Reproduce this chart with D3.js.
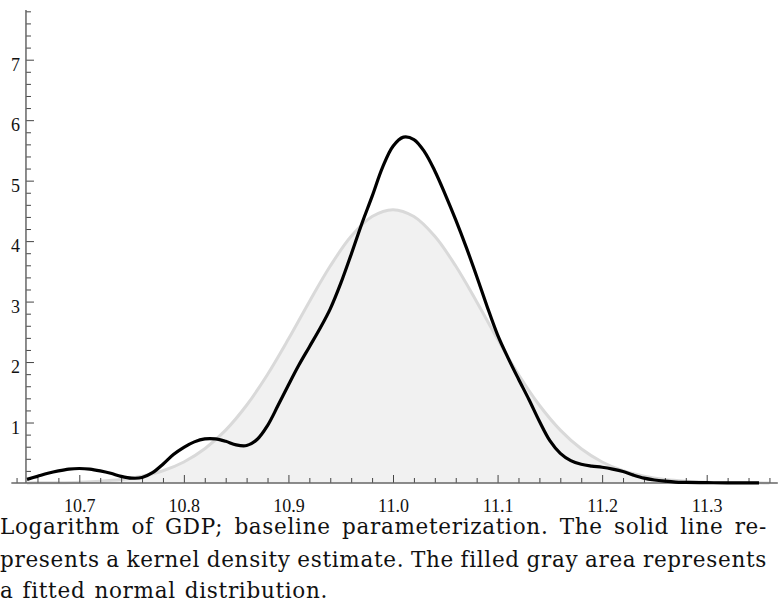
<!DOCTYPE html>
<html><head><meta charset="utf-8">
<script src="https://cdn.jsdelivr.net/npm/d3@7"></script>
<style>body{margin:0;background:#fff}svg{display:block}
.tk{font-family:"Liberation Serif","Times New Roman","DejaVu Serif",serif}
.cap{font-family:"DejaVu Serif","Liberation Serif",serif;letter-spacing:0.7px}</style>
</head><body>
<svg id="c" width="779" height="604"></svg>
<script>
// Kernel density estimate (black line)
const kdeX = [10.65,10.66,10.67,10.68,10.69,10.70,10.71,10.72,10.73,10.74,10.75,10.76,10.77,10.78,10.79,10.80,10.81,10.82,10.83,10.84,10.85,10.86,10.87,10.88,10.89,10.90,10.91,10.92,10.93,10.94,10.95,10.96,10.97,10.98,10.99,11.00,11.01,11.02,11.03,11.04,11.05,11.06,11.07,11.08,11.09,11.10,11.11,11.12,11.13,11.14,11.15,11.16,11.17,11.18,11.19,11.20,11.21,11.22,11.23,11.24,11.25,11.26,11.27,11.28,11.30,11.32,11.35];
const kdeY = [0.06,0.11,0.16,0.20,0.23,0.24,0.23,0.20,0.16,0.11,0.08,0.09,0.17,0.31,0.47,0.59,0.68,0.73,0.73,0.69,0.63,0.62,0.72,0.95,1.28,1.62,1.95,2.25,2.55,2.88,3.30,3.78,4.28,4.74,5.22,5.57,5.72,5.68,5.48,5.16,4.77,4.35,3.90,3.42,2.92,2.45,2.07,1.72,1.38,1.02,0.70,0.49,0.37,0.31,0.28,0.26,0.23,0.19,0.13,0.08,0.05,0.03,0.015,0.01,0.005,0.003,0.002];
// Fitted normal distribution (gray filled area)
const normX = [10.65,10.66,10.68,10.70,10.72,10.74,10.76,10.78,10.80,10.82,10.84,10.86,10.88,10.90,10.92,10.94,10.96,10.98,11.00,11.02,11.04,11.06,11.08,11.10,11.12,11.14,11.16,11.18,11.20,11.22,11.24,11.26,11.28,11.30,11.32,11.34,11.36];
const normY = [0.002,0.003,0.006,0.014,0.030,0.059,0.113,0.203,0.348,0.566,0.875,1.286,1.795,2.380,2.999,3.588,4.079,4.406,4.52,4.406,4.079,3.588,2.999,2.380,1.795,1.286,0.875,0.566,0.348,0.203,0.113,0.059,0.030,0.014,0.006,0.003,0.001];
// Tick labels
const xMajor = [10.7,10.8,10.9,11.0,11.1,11.2,11.3];
const yMajor = [1,2,3,4,5,6,7];
const captionLines = [
  "Logarithm of GDP; baseline parameterization. The solid line re-",
  "presents a kernel density estimate. The filled gray area represents",
  "a fitted normal distribution."
];

const svg = d3.select("#c");
const x = d3.scaleLinear().domain([10.7, 11.3]).range([79.3, 706.7]);
const y = d3.scaleLinear().domain([0, 7]).range([483, 59.7]);

const normPts = normX.map((v,i)=>[v, normY[i]]);
const kdePts = kdeX.map((v,i)=>[v, kdeY[i]]);

// filled normal
svg.append("path").datum(normPts)
  .attr("d", d3.area().x(d=>x(d[0])).y0(y(0)).y1(d=>y(d[1])).curve(d3.curveCatmullRom))
  .attr("fill", "#f1f1f1");
svg.append("path").datum(normPts)
  .attr("d", d3.line().x(d=>x(d[0])).y(d=>y(d[1])).curve(d3.curveCatmullRom))
  .attr("fill", "none").attr("stroke", "#d9d9d9").attr("stroke-width", 3);

// axes
const minorX = d3.range(10.64, 11.3701, 0.02).filter(v => !xMajor.some(m => Math.abs(m - v) < 1e-6));
const minorY = d3.range(0.2, 7.81, 0.2).filter(v => !yMajor.some(m => Math.abs(m - v) < 1e-6));

const gx = svg.append("g").attr("transform", `translate(0,${y(0)})`);
gx.call(d3.axisBottom(x).tickValues(minorX).tickSize(-5).tickFormat(""));
gx.select(".domain").remove();
const gx2 = svg.append("g").attr("transform", `translate(0,${y(0)})`);
gx2.call(d3.axisBottom(x).tickValues(xMajor).tickSize(-8).tickPadding(16).tickFormat(d3.format(".1f")));
gx2.select(".domain").remove();
gx.selectAll("line").attr("stroke", "#444");
gx2.selectAll("line").attr("stroke", "#444");
gx2.selectAll("text").attr("class", "tk").attr("font-size", 18).attr("fill", "#111");

const gy = svg.append("g").attr("transform", `translate(${x(10.649)},0)`);
gy.call(d3.axisLeft(y).tickValues(minorY).tickSize(-5).tickFormat(""));
gy.select(".domain").remove();
const gy2 = svg.append("g").attr("transform", `translate(${x(10.649)},0)`);
gy2.call(d3.axisLeft(y).tickValues(yMajor).tickSize(-8).tickPadding(6).tickFormat(d3.format("d")));
gy2.select(".domain").remove();
gy.selectAll("line").attr("stroke", "#444");
gy2.selectAll("line").attr("stroke", "#444");
gy2.selectAll("text").attr("class", "tk").attr("font-size", 18).attr("fill", "#111").attr("dy", "0.6em");
[gx, gx2, gy, gy2].forEach(g => g.attr("font-family", null).attr("font-size", null));

svg.append("line").attr("x1", x(10.635)).attr("x2", x(11.368)).attr("y1", y(0)).attr("y2", y(0))
  .attr("stroke", "#666").attr("stroke-width", 1.5);
svg.append("line").attr("x1", x(10.649)).attr("x2", x(10.649)).attr("y1", y(0)).attr("y2", y(7.82))
  .attr("stroke", "#666").attr("stroke-width", 1.5);

// KDE line
svg.append("path").datum(kdePts)
  .attr("d", d3.line().x(d=>x(d[0])).y(d=>y(d[1])).curve(d3.curveCatmullRom))
  .attr("fill", "none").attr("stroke", "#000").attr("stroke-width", 3.2).attr("stroke-linejoin", "round");

// caption, justified
const capSize = 21.5;
const left = 0, right = 767;
const baselines = [534, 566.5, 598];
captionLines.forEach((line, li) => {
  const words = line.split(" ");
  const g = svg.append("g");
  const nodes = words.map(w => g.append("text").attr("class", "cap").attr("font-size", capSize)
    .attr("fill", "#111").attr("y", baselines[li]).text(w));
  const widths = nodes.map(n => n.node().getComputedTextLength());
  const total = d3.sum(widths);
  const justify = li < captionLines.length - 1;
  const gap = justify ? (right - left - total) / (words.length - 1) : capSize * 0.42;
  let cx = left;
  nodes.forEach((n, i) => { n.attr("x", cx); cx += widths[i] + gap; });
});
</script>
</body></html>
